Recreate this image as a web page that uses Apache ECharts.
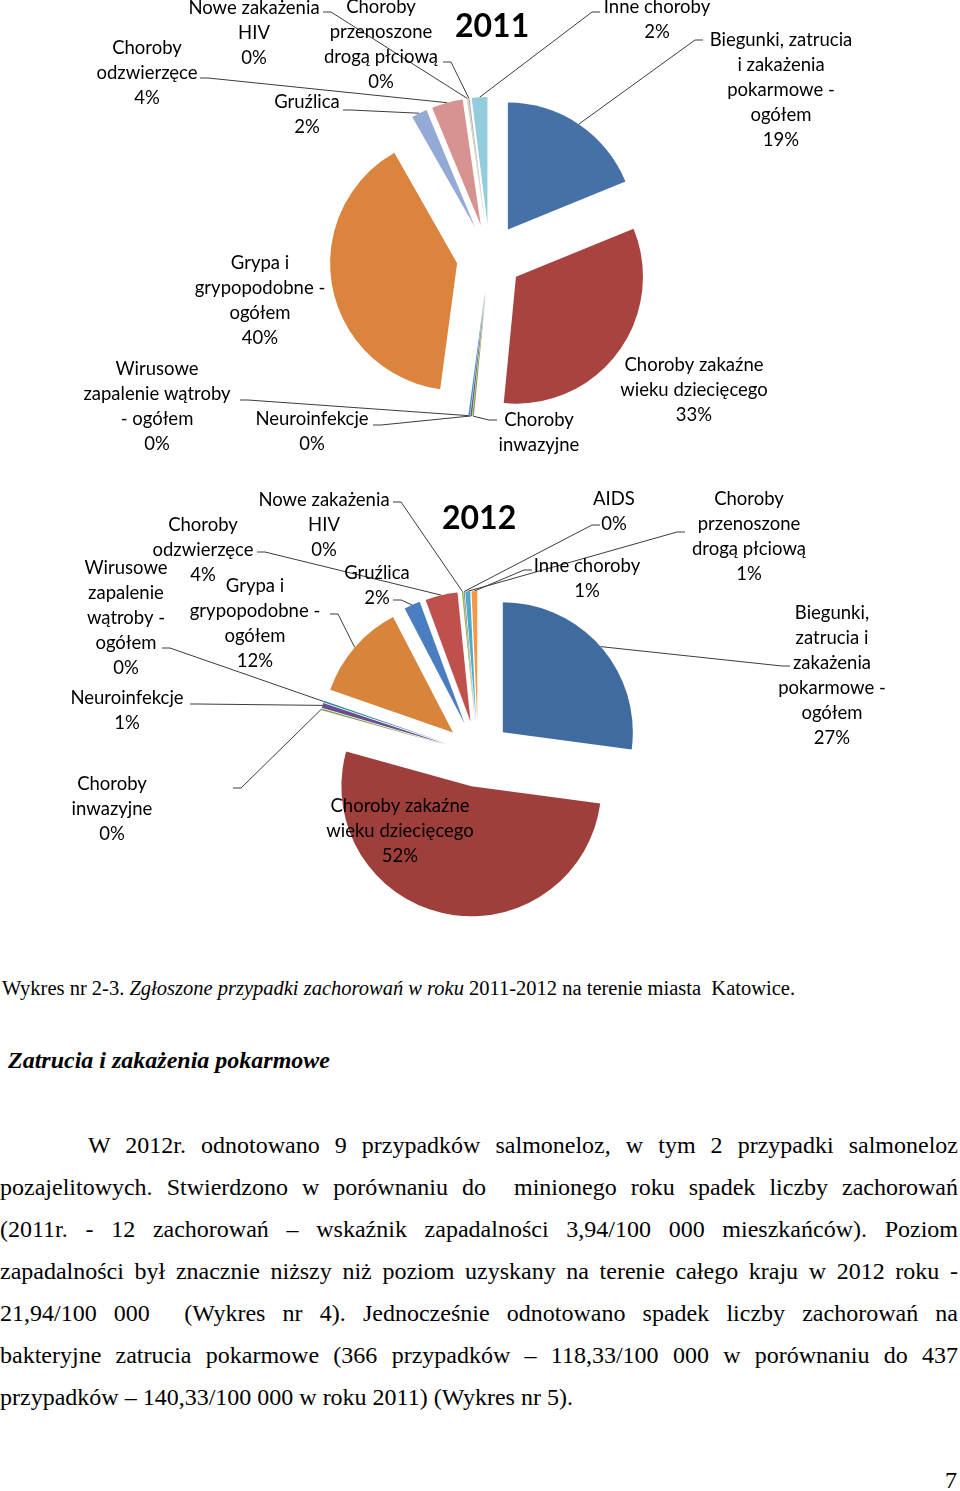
<!DOCTYPE html>
<html lang="pl">
<head>
<meta charset="utf-8">
<title>Zgłoszone przypadki zachorowań 2011-2012</title>
<script src="https://cdn.jsdelivr.net/npm/echarts@6/dist/echarts.min.js"></script>
<style>
  html, body { margin: 0; padding: 0; background: #fff; }
  body { width: 960px; height: 1491px; position: relative; overflow: hidden; }
  #chart2011 { position: absolute; left: 0; top: 0; width: 960px; height: 460px; }
  #chart2012 { position: absolute; left: 0; top: 460px; width: 960px; height: 480px; }
  .doc { position: absolute; font-family: "Liberation Serif", "Times New Roman", serif; color: #000; white-space: nowrap; }
  .caption { left: 2px; top: 978px; font-size: 20.5px; line-height: 20.5px; }
  .heading { left: 8px; top: 1048px; font-size: 24px; line-height: 24px; font-weight: bold; font-style: italic; }
  .para { left: 0; top: 1124px; width: 958px; font-size: 24px; line-height: 42px; }
  .para div { text-align: justify; text-align-last: justify; white-space: normal; }
  .para div.first { padding-left: 88px; }
  .para div.last { text-align-last: left; }
  .pagenum { right: 3px; top: 1468px; font-size: 24px; line-height: 24px; }
</style>
</head>
<body>
<div id="chart2011"></div>
<div id="chart2012"></div>

<div class="doc caption">Wykres nr 2-3. <i>Zgłoszone przypadki zachorowań w roku</i> 2011-2012 na terenie miasta&nbsp; Katowice.</div>
<div class="doc heading">Zatrucia i zakażenia pokarmowe</div>
<div class="doc para">
  <div class="first">W 2012r. odnotowano 9 przypadków salmoneloz, w tym 2 przypadki salmoneloz</div>
  <div>pozajelitowych. Stwierdzono w porównaniu do &nbsp;minionego roku spadek liczby zachorowań</div>
  <div>(2011r. - 12 zachorowań – wskaźnik zapadalności 3,94/100 000 mieszkańców). Poziom</div>
  <div>zapadalności był znacznie niższy niż poziom uzyskany na terenie całego kraju w 2012 roku -</div>
  <div>21,94/100 000 &nbsp;(Wykres nr 4). Jednocześnie odnotowano spadek liczby zachorowań na</div>
  <div>bakteryjne zatrucia pokarmowe (366 przypadków – 118,33/100 000 w porównaniu do 437</div>
  <div class="last">przypadków – 140,33/100 000 w roku 2011) (Wykres nr 5).</div>
</div>
<div class="doc pagenum">7</div>

<script>
// --- dane 2011 ---
const categories2011 = [
  'Biegunki, zatrucia i zakażenia pokarmowe - ogółem',
  'Choroby zakaźne wieku dziecięcego',
  'Choroby inwazyjne',
  'Neuroinfekcje',
  'Wirusowe zapalenie wątroby - ogółem',
  'Grypa i grypopodobne - ogółem',
  'Gruźlica',
  'Choroby odzwierzęce',
  'Nowe zakażenia HIV',
  'Choroby przenoszone drogą płciową',
  'Inne choroby'
]
const values2011 = [19, 33, 0.2, 0.2, 0.2, 40, 2, 4, 0.15, 0.15, 2]
const labelText2011 = [
  'Biegunki, zatrucia\ni zakażenia\npokarmowe -\nogółem',
  'Choroby zakaźne\nwieku dziecięcego',
  'Choroby\ninwazyjne',
  'Neuroinfekcje',
  'Wirusowe\nzapalenie wątroby\n- ogółem',
  'Grypa i\ngrypopodobne -\nogółem',
  'Gruźlica',
  'Choroby\nodzwierzęce',
  'Nowe zakażenia\nHIV',
  'Choroby\nprzenoszone\ndrogą płciową',
  'Inne choroby'
]

// --- dane 2012 ---
const categories2012 = [
  'Biegunki, zatrucia i zakażenia pokarmowe - ogółem',
  'Choroby zakaźne wieku dziecięcego',
  'Choroby inwazyjne',
  'Neuroinfekcje',
  'Wirusowe zapalenie wątroby - ogółem',
  'Grypa i grypopodobne - ogółem',
  'Gruźlica',
  'Choroby odzwierzęce',
  'Nowe zakażenia HIV',
  'AIDS',
  'Choroby przenoszone drogą płciową',
  'Inne choroby'
]
const values2012 = [27, 52, 0.2, 0.6, 0.2, 12, 2, 4, 0.2, 0.1, 0.6, 0.7]
const labelText2012 = [
  'Biegunki,\nzatrucia i\nzakażenia\npokarmowe -\nogółem',
  'Choroby zakaźne\nwieku dziecięcego',
  'Choroby\ninwazyjne',
  'Neuroinfekcje',
  'Wirusowe\nzapalenie\nwątroby -\nogółem',
  'Grypa i\ngrypopodobne -\nogółem',
  'Gruźlica',
  'Choroby\nodzwierzęce',
  'Nowe zakażenia\nHIV',
  'AIDS',
  'Choroby\nprzenoszone\ndrogą płciową',
  'Inne choroby'
]

// kolory wycinków
const colors2011 = ['#4571A7', '#A8433F', '#86A44A', '#6E548D', '#3D96AE', '#DB843D',
  '#93AAD6', '#D69391', '#C3D69B', '#B3A2C7', '#93CCDC']
const colors2012 = ['#3F6B9F', '#9E3F3C', '#7D9A45', '#674E8E', '#31859C', '#D9843B',
  '#4A7EC0', '#C0504D', '#9BBB59', '#8064A2', '#4BACC6', '#F79646']

// położenie etykiet: [środek x, środek y, punkt linii x, punkt linii y] (null = bez linii)
const labelPos2011 = [
  [781, 90, 703, 40],
  [694, 390, null, null],
  [539, 445, 497, 420],
  [312, 432, 373, 425],
  [157, 407, 240, 400],
  [260, 301, null, null],
  [307, 115, 343, 110],
  [147, 73, 200, 78],
  [254, 33, 323, 12],
  [381, 45, 443, 62],
  [657, 20, 600, 12]
]
const labelPos2012 = [
  [832, 216, 790, 206],
  [400, 371, null, null],
  [112, 349, 233, 328],
  [127, 251, 190, 244],
  [126, 158, 162, 188],
  [255, 164, 330, 154],
  [377, 126, 393, 140],
  [203, 90, 257, 92],
  [324, 65, 393, 42],
  [614, 52, 600, 65],
  [749, 77, 685, 72],
  [587, 119, 532, 110]
]

const buildPie = (dom, cfg) => {
  const chart = echarts.init(dom, null, { renderer: 'canvas' })
  const total = cfg.values.reduce((a, b) => a + b, 0)
  // kąt środka każdego wycinka (od godz. 12, zgodnie z zegarem)
  const midAngles = []
  let acc = 0
  cfg.values.forEach(v => {
    midAngles.push((acc + v / 2) / total * 360)
    acc += v
  })

  // wycinki rozsunięte (zaznaczone)
  const sliceData = cfg.categories.map((name, i) => ({
    name,
    value: cfg.values[i],
    selected: true,
    itemStyle: { color: cfg.colors[i] }
  }))

  // te same dane - tylko etykiety i linie odniesienia
  const labelData = cfg.categories.map((name, i) => ({
    name,
    value: cfg.values[i],
    labelLine: { show: cfg.labelPos[i][2] != null }
  }))

  const option = {
    animation: false,
    title: {
      text: cfg.title,
      left: cfg.titleLeft,
      top: cfg.titleTop,
      textStyle: { fontFamily: 'Lato', fontWeight: 'bold', fontSize: 32, color: '#000' }
    },
    series: [
      {
        type: 'pie',
        center: cfg.center,
        radius: cfg.radius,
        startAngle: 90,
        clockwise: true,
        selectedMode: 'multiple',
        selectedOffset: cfg.offset,
        avoidLabelOverlap: false,
        itemStyle: { borderWidth: 0 },
        emphasis: { disabled: true },
        label: { show: false },
        labelLine: { show: false },
        data: sliceData
      },
      {
        type: 'pie',
        silent: true,
        center: cfg.center,
        radius: cfg.radius,
        startAngle: 90,
        clockwise: true,
        avoidLabelOverlap: false,
        itemStyle: { color: 'rgba(0,0,0,0)', borderWidth: 0 },
        emphasis: { disabled: true },
        data: labelData,
        label: {
          show: true,
          position: 'outside',
          fontFamily: 'Lato',
          fontSize: 18.5,
          lineHeight: 25,
          color: '#000',
          formatter: p => cfg.labelText[p.dataIndex] + '\n' + Math.round(p.percent) + '%'
        },
        labelLine: {
          show: true,
          lineStyle: { color: '#3c3c3c', width: 1, opacity: 1 }
        },
        labelLayout: params => {
          const i = params.dataIndex
          const pos = cfg.labelPos[i]
          const out = { x: pos[0], y: pos[1], align: 'center', verticalAlign: 'middle' }
          if (pos[2] != null) {
            const a = midAngles[i] * Math.PI / 180
            const R = cfg.radius + cfg.offset
            const sx = cfg.center[0] + R * Math.sin(a)
            const sy = cfg.center[1] - R * Math.cos(a)
            const s = sx > pos[2] ? 1 : -1
            out.labelLinePoints = [[sx, sy], [pos[2] + s * 8, pos[3]], [pos[2], pos[3]]]
          }
          return out
        }
      }
    ]
  }
  chart.setOption(option)
  return chart
}

buildPie(document.getElementById('chart2011'), {
  title: '2011', titleLeft: 450, titleTop: 6,
  categories: categories2011, values: values2011, labelText: labelText2011,
  colors: colors2011, labelPos: labelPos2011,
  center: [489.5, 257], radius: 127, offset: 33
})

buildPie(document.getElementById('chart2012'), {
  title: '2012', titleLeft: 437, titleTop: 38,
  categories: categories2012, values: values2012, labelText: labelText2012,
  colors: colors2012, labelPos: labelPos2012,
  center: [478, 294], radius: 130, offset: 33
})
</script>
</body>
</html>
